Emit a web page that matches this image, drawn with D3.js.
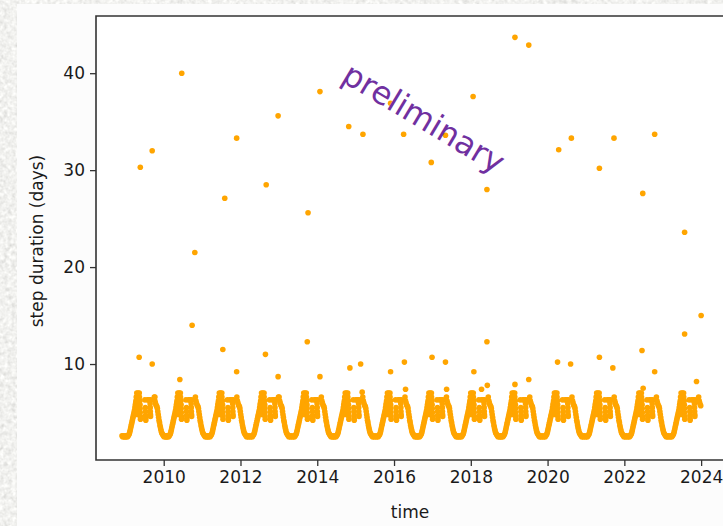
<!DOCTYPE html>
<html lang="en">
<head>
<meta charset="UTF-8">
<title>step duration</title>
<style>
  body { margin: 0; }
  svg { display: block; }
</style>
</head>
<body>
<script src="https://d3js.org/d3.v7.min.js"></script>
<script>
// ---- data ----
// centre of each hump (decimal year); the first one is only partly inside the data range
var cycleMid = [2008.47, 2009.55, 2010.62, 2011.70, 2012.80, 2013.90, 2014.98, 2016.08, 2017.16,
                2018.25, 2019.33, 2020.43, 2021.53, 2022.63, 2023.73];
var firstTime = 2008.91, lastTime = 2024.0;
// one hump: days from centre, step duration (days)
var profileDays = [-198,-192,-186,-180,-174,-168,-163,-158,-154,-150,-146,-142,-138,-134,-130,-126,-122,-118,-114,-110,-106,-102,
                   -100,-97,-87,-77,-67,-92,-80,-68,-92,-91,-90,-89,-62,-61,-60,-59,-58,-57,
                   -15,-10,-9,-8,-7,-6,10,20,30,40,35,36,37,38,39,
                   75,80,85,90,95,
                   100,104,108,112,116,120,124,128,132,136,140,145,150,156,162,168,174,180,186,192];
var profileDur  = [2.5,2.5,2.6,2.5,2.6,2.7,2.8,3.0,3.2,3.4,3.6,3.8,4.0,4.2,4.4,4.6,4.8,5.0,5.2,5.5,5.8,6.0,
                   6.2,6.6,6.6,6.6,6.6,7.0,7.0,7.0,6.0,5.6,5.2,4.8,6.2,5.8,5.4,5.0,4.6,4.3,
                   6.3,5.5,5.1,4.7,4.4,4.2,6.3,6.3,6.3,6.3,5.9,5.5,5.1,4.8,4.6,
                   6.6,6.2,6.0,5.8,5.7,
                   5.6,5.4,5.1,4.8,4.5,4.2,4.0,3.7,3.5,3.3,3.1,2.9,2.8,2.7,2.6,2.5,2.6,2.5,2.5,2.6];
// isolated long steps
var highTime = [2009.39,2009.70,2010.47,2010.81,2011.59,2011.90,2012.67,2012.98,2013.76,2014.07,
                2014.82,2015.19,2015.91,2016.25,2016.97,2017.34,2018.06,2018.42,2019.15,2019.51,
                2020.29,2020.62,2021.35,2021.73,2022.48,2022.79,2023.57,2024.00];
var highDur  = [30.3,32.0,40.0,21.5,27.1,33.3,28.5,35.6,25.6,38.1,
                34.5,33.7,36.9,33.7,30.8,33.6,37.6,28.0,43.7,42.9,
                32.1,33.3,30.2,33.3,27.6,33.7,23.6,15.0];
var midTime = [2009.36,2009.70,2010.42,2010.74,2011.54,2011.90,2012.65,2012.98,2013.74,2014.07,
               2014.85,2015.13,2015.91,2016.27,2016.99,2017.34,2018.08,2018.42,2019.15,2019.51,
               2020.26,2020.60,2021.35,2021.70,2022.46,2022.79,2023.57,2023.88];
var midDur  = [10.7,10.0,8.4,14.0,11.5,9.2,11.0,8.7,12.3,8.7,
               9.6,10.0,9.2,10.2,10.7,10.2,9.2,12.3,7.9,8.4,
               10.2,10.0,10.7,9.6,11.4,9.2,13.1,8.2];
var nearTime = [2009.77,2012.99,2015.17,2016.30,2017.37,2018.28,2018.43,2022.49,2023.90];
var nearDur  = [6.6,6.6,7.1,7.4,7.4,7.4,7.8,7.5,6.2];
var xTickValues = [2010, 2012, 2014, 2016, 2018, 2020, 2022, 2024];
var yTickValues = [10, 20, 30, 40];

// ---- build the point list ----
var points = [];
cycleMid.forEach(function(c) {
  profileDays.forEach(function(d, i) {
    var t = c + d / 365.25;
    if (t >= firstTime && t <= lastTime) points.push({t: t, v: profileDur[i]});
  });
});
highTime.forEach(function(t, i) { points.push({t: t, v: highDur[i]}); });
midTime.forEach(function(t, i) { points.push({t: t, v: midDur[i]}); });
nearTime.forEach(function(t, i) { points.push({t: t, v: nearDur[i]}); });

// ---- page ----
var W = 723, H = 526;
var svg = d3.select("body").append("svg").attr("width", W).attr("height", H);

// stone-like backdrop
var defs = svg.append("defs");
var f = defs.append("filter").attr("id", "stone").attr("x", 0).attr("y", 0).attr("width", "100%").attr("height", "100%");
f.append("feTurbulence").attr("type", "fractalNoise").attr("baseFrequency", 0.25).attr("numOctaves", 4).attr("seed", 7);
f.append("feColorMatrix").attr("type", "matrix")
  .attr("values", "0.3 0.3 0 0 0.58  0.3 0.3 0 0 0.58  0.3 0.3 0 0 0.56  0 0 0 0 1");
svg.append("rect").attr("width", W).attr("height", H).attr("filter", "url(#stone)");

// figure face
svg.append("rect").attr("x", 17).attr("y", 4).attr("width", W - 17).attr("height", H - 4).attr("fill", "#fcfcfc");

var plotLeft = 96, plotTop = 16, plotBottom = 460;
var x = d3.scaleLinear().domain([2008.236, 2024.57]).range([plotLeft, W]);
var y = d3.scaleLinear().domain([0.1, 45.9]).range([plotBottom, plotTop]);

svg.append("rect").attr("x", plotLeft).attr("y", plotTop)
  .attr("width", W - plotLeft).attr("height", plotBottom - plotTop).attr("fill", "#fff");

// points
svg.append("g").selectAll("circle").data(points).enter().append("circle")
  .attr("cx", function(d) { return x(d.t); })
  .attr("cy", function(d) { return y(d.v); })
  .attr("r", 2.8)
  .attr("fill", "#ffa500");

// axes
var xAxis = d3.axisBottom(x).tickValues(xTickValues).tickFormat(d3.format("d")).tickSize(6).tickPadding(5);
var yAxis = d3.axisLeft(y).tickValues(yTickValues).tickFormat(d3.format("d")).tickSize(6).tickPadding(5);

var gx = svg.append("g").attr("transform", "translate(0," + plotBottom + ")").call(xAxis);
var gy = svg.append("g").attr("transform", "translate(" + plotLeft + ",0)").call(yAxis);
[gx, gy].forEach(function(g) {
  g.select(".domain").remove();
  g.selectAll("line").attr("stroke", "#333").attr("stroke-width", 1.3);
  g.selectAll("text").attr("font-family", "DejaVu Sans").attr("font-size", 17).attr("fill", "#1a1a1a");
});

// spines (left, top, bottom)
svg.append("path")
  .attr("d", "M" + W + "," + plotTop + "H" + plotLeft + "V" + plotBottom + "H" + W)
  .attr("fill", "none").attr("stroke", "#333").attr("stroke-width", 1.6);

// axis titles
svg.append("text").attr("x", 410).attr("y", 518).attr("text-anchor", "middle")
  .attr("font-family", "DejaVu Sans").attr("font-size", 17).attr("fill", "#1a1a1a").text("time");
svg.append("text").attr("transform", "translate(43,241) rotate(-90)").attr("text-anchor", "middle")
  .attr("font-family", "DejaVu Sans").attr("font-size", 17).attr("fill", "#1a1a1a").text("step duration (days)");

// watermark
svg.append("text").attr("transform", "translate(424,118) rotate(31)").attr("text-anchor", "middle")
  .attr("dy", "0.35em")
  .attr("font-family", "DejaVu Sans").attr("font-size", 32).attr("fill", "#7030a0").text("preliminary");
</script>
</body>
</html>
